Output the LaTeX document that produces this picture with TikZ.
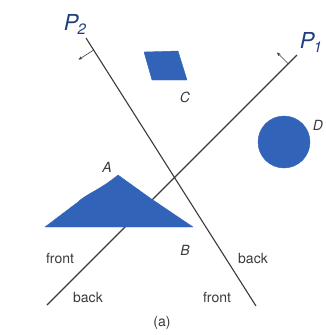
\documentclass[tikz,border=0pt]{standalone}
\usepackage{fontspec}
\setmainfont{TeX Gyre Heros}
\usepackage{tikz}
\usetikzlibrary{positioning, arrows.meta, calc}
\definecolor{ObjBlue}{HTML}{3164B8}
\definecolor{PenBlue}{HTML}{1E3F7A}
\definecolor{LineGray}{HTML}{3A3A3A}

\begin{document}
\begin{tikzpicture}[
  x=1pt, y=-1pt,
  every node/.style={font=\fontsize{14}{16}\selectfont, text=LineGray, inner sep=1pt},
  plane/.style={LineGray, line width=1.1pt},
  normal/.style={-{Stealth[length=4pt, width=3pt]}, LineGray, line width=0.6pt},
  obj/.style={fill=ObjBlue, draw=ObjBlue, line join=round},
  objlbl/.style={font=\fontsize{14}{16}\selectfont\itshape},
  penlbl/.style={text=PenBlue, font=\fontsize{22}{24}\selectfont\itshape}
]
  \useasboundingbox (0,0) rectangle (325,335);

  % Plane P1
  \coordinate (p1a) at (47,305);
  \coordinate (p1b) at (297,55);
  \draw[plane] (p1a) -- (p1b);
  \coordinate (p1n) at ($(p1a)!0.965!(p1b)$);
  \coordinate (p1t) at ($(p1n)!16pt!90:(p1b)$);
  \draw[normal] (p1n) -- (p1t);
  \node[penlbl] (lp1) at (311,42) {P\kern-1pt\raisebox{-4pt}{\fontsize{15}{15}\selectfont 1}};

  % Plane P2
  \coordinate (p2a) at (86,38);
  \coordinate (p2b) at (256,306);
  \draw[plane] (p2a) -- (p2b);
  \coordinate (p2n) at ($(p2a)!0.045!(p2b)$);
  \coordinate (p2t) at ($(p2n)!18pt!-90:(p2b)$);
  \draw[normal] (p2n) -- (p2t);
  \node[penlbl] (lp2) at (75,24) {P\kern-1pt\raisebox{-4pt}{\fontsize{15}{15}\selectfont 2}};

  % Objects
  \fill[obj] (45,227) -- (78,202) .. controls (86,194) and (100,190) .. (118,175)
    -- (150,198) -- (193,227) -- cycle;
  \node[objlbl] (la) at (107,167) {A};
  \node[objlbl] (lb) at (185,250) {B};

  \fill[obj] (144,52) -- (178,51) -- (187,80) -- (152,80) -- cycle;
  \node[objlbl] (lc) at (185,97) {C};

  \fill[obj] (284,142) circle (26);
  \node[objlbl] (ld) at (318,125) {D};

  % Side labels
  \node (f1) at (60,258) {front};
  \node (b1) at (88,297) {back};
  \node (b2) at (253,258) {back};
  \node (f2) at (217,297) {front};

  % Caption
  \node (cap) at (162,323) {(a)};
\end{tikzpicture}
\end{document}
